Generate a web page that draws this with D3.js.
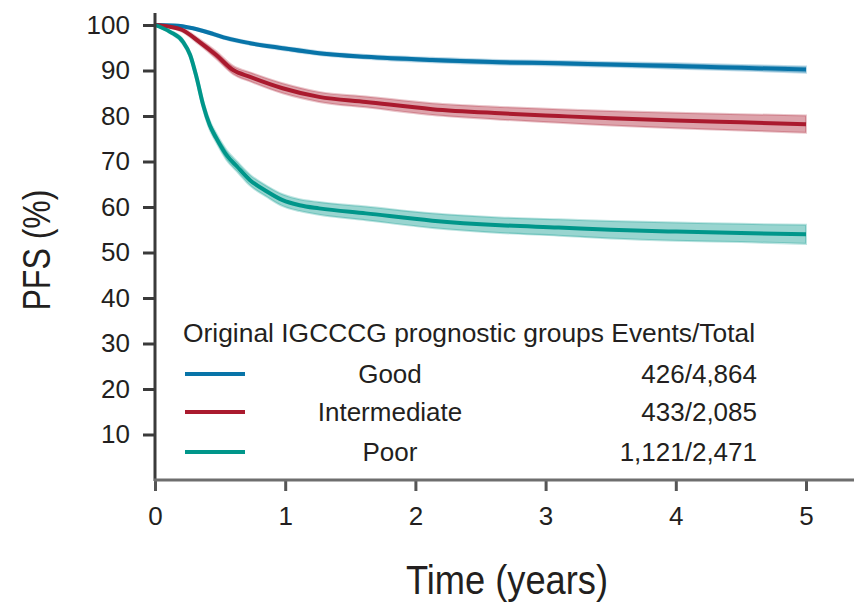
<!DOCTYPE html>
<html>
<head>
<meta charset="utf-8">
<script src="https://cdn.jsdelivr.net/npm/d3@7"></script>
<style>
  html, body { margin: 0; padding: 0; background: #fff; }
  svg { display: block; }
  text { font-family: "Liberation Sans", Arial, sans-serif; fill: #231f20; }
</style>
</head>
<body>
<svg id="chart" width="854" height="602"></svg>
<script>
// Progression-free survival by original IGCCCG prognostic group
const groups = ["Good", "Intermediate", "Poor"];
const eventsTotal = ["426/4,864", "433/2,085", "1,121/2,471"];
const colors = ["#0874a8", "#aa1a2e", "#00968a"];

const goodTime = [0, 0.15, 0.29, 0.45, 0.55, 0.73, 0.98, 1.26, 1.62, 2.13, 2.65, 3.1, 3.5, 4.0, 4.5, 5.0];
const goodPFS  = [100, 99.9, 99.3, 98.0, 97.1, 96.0, 94.9, 93.8, 93.0, 92.3, 91.8, 91.6, 91.3, 91.0, 90.6, 90.2];
const goodCI   = [0, 0.1, 0.2, 0.3, 0.3, 0.3, 0.4, 0.4, 0.4, 0.5, 0.5, 0.5, 0.5, 0.6, 0.6, 0.7];

const intTime = [0, 0.1, 0.21, 0.34, 0.47, 0.6, 0.73, 0.98, 1.26, 1.62, 2.13, 2.65, 3.1, 3.5, 4.0, 4.5, 5.0];
const intPFS  = [100, 99.7, 98.9, 96.3, 93.4, 90.1, 88.6, 86.1, 84.2, 83.1, 81.5, 80.6, 80.0, 79.5, 79.0, 78.6, 78.2];
const intCI   = [0, 0.2, 0.4, 0.6, 0.8, 0.9, 1.0, 1.1, 1.1, 1.2, 1.3, 1.4, 1.5, 1.6, 1.7, 1.8, 1.9];

const poorTime = [0, 0.115, 0.215, 0.27, 0.32, 0.37, 0.42, 0.47, 0.55, 0.63, 0.73, 0.86, 0.98, 1.11, 1.26, 1.62, 2.13, 2.65, 3.1, 3.5, 4.0, 4.5, 5.0];
const poorPFS  = [100, 98.5, 96.3, 93.4, 88.4, 82.4, 78, 75.2, 71.4, 68.9, 65.9, 63.4, 61.5, 60.4, 59.7, 58.6, 57.0, 56.0, 55.5, 55.0, 54.6, 54.3, 54.0];
const poorCI   = [0, 0.3, 0.5, 0.6, 0.8, 0.9, 1.0, 1.0, 1.1, 1.1, 1.2, 1.2, 1.3, 1.3, 1.4, 1.5, 1.6, 1.7, 1.8, 1.9, 2.0, 2.0, 2.1];

const xTicks = [0, 1, 2, 3, 4, 5];
const yTicks = [10, 20, 30, 40, 50, 60, 70, 80, 90, 100];

const series = [
  { time: goodTime, pfs: goodPFS, ci: goodCI },
  { time: intTime,  pfs: intPFS,  ci: intCI },
  { time: poorTime, pfs: poorPFS, ci: poorCI }
].map((s, i) => ({
  color: colors[i],
  points: s.time.map((t, j) => ({ t, v: s.pfs[j], lo: s.pfs[j] - s.ci[j], hi: Math.min(100, s.pfs[j] + s.ci[j]) }))
}));

const svg = d3.select("#chart");
const x = d3.scaleLinear().domain([0, 5]).range([155, 806]);
const y = d3.scaleLinear().domain([0, 100]).range([480, 25]);

// Confidence bands
const band = d3.area()
  .x(d => x(d.t)).y0(d => y(d.lo)).y1(d => y(d.hi))
  .curve(d3.curveMonotoneX);
const line = d3.line()
  .x(d => x(d.t)).y(d => y(d.v))
  .curve(d3.curveMonotoneX);

svg.append("g").selectAll("path").data(series).join("path")
  .attr("d", d => band(d.points))
  .attr("fill", d => d.color)
  .attr("fill-opacity", 0.4)
  .attr("stroke", d => d.color)
  .attr("stroke-opacity", 0.25)
  .attr("stroke-width", 2);

svg.append("g").selectAll("path").data(series).join("path")
  .attr("d", d => line(d.points))
  .attr("fill", "none")
  .attr("stroke", d => d.color)
  .attr("stroke-width", 4);

// Y axis
const yAxis = svg.append("g")
  .attr("transform", "translate(155,0)")
  .call(d3.axisLeft(y).tickValues(yTicks).tickSize(12).tickPadding(13).tickSizeOuter(0));
yAxis.select(".domain").remove();
yAxis.append("line")
  .attr("x1", 0).attr("x2", 0).attr("y1", 13).attr("y2", 481)
  .attr("stroke", "#3a3a3a").attr("stroke-width", 3);
yAxis.selectAll(".tick line").attr("stroke", "#3a3a3a").attr("stroke-width", 3);
yAxis.selectAll(".tick text")
  .attr("font-size", 26).attr("font-family", "Liberation Sans, Arial, sans-serif")
  .attr("fill", "#231f20");

// X axis
const xAxis = svg.append("g")
  .attr("transform", "translate(0,480)")
  .call(d3.axisBottom(x).tickValues(xTicks).tickFormat(d3.format("d")).tickSize(11).tickPadding(16).tickSizeOuter(0));
xAxis.select(".domain").remove();
xAxis.append("line")
  .attr("x1", 154).attr("x2", 854).attr("y1", 0).attr("y2", 0)
  .attr("stroke", "#6e6e6e").attr("stroke-width", 3);
xAxis.selectAll(".tick line").attr("stroke", "#555").attr("stroke-width", 3);
xAxis.selectAll(".tick text")
  .attr("font-size", 26).attr("font-family", "Liberation Sans, Arial, sans-serif")
  .attr("fill", "#231f20");

// Axis titles (condensed lettering)
svg.append("text")
  .attr("x", 507).attr("y", 594)
  .attr("text-anchor", "middle")
  .attr("font-size", 40)
  .attr("textLength", 202)
  .attr("lengthAdjust", "spacingAndGlyphs")
  .text("Time (years)");

svg.append("text")
  .attr("transform", "translate(50,250) rotate(-90)")
  .attr("text-anchor", "middle")
  .attr("font-size", 39)
  .attr("textLength", 121)
  .attr("lengthAdjust", "spacingAndGlyphs")
  .text("PFS (%)");

// Legend
const legend = svg.append("g");
legend.append("text")
  .attr("x", 183).attr("y", 342)
  .attr("font-size", 26.4)
  .text("Original IGCCCG prognostic groups Events/Total");

const rowY = [374, 412, 452];
const rows = legend.selectAll("g.row").data(groups).join("g").attr("class", "row");
rows.append("line")
  .attr("x1", 185).attr("x2", 245)
  .attr("y1", (d, i) => rowY[i]).attr("y2", (d, i) => rowY[i])
  .attr("stroke", (d, i) => colors[i]).attr("stroke-width", 4);
rows.append("text")
  .attr("x", 390).attr("y", (d, i) => rowY[i] + 9)
  .attr("text-anchor", "middle")
  .attr("font-size", 26)
  .text(d => d);
rows.append("text")
  .attr("x", 757).attr("y", (d, i) => rowY[i] + 9)
  .attr("text-anchor", "end")
  .attr("font-size", 26)
  .text((d, i) => eventsTotal[i]);
</script>
</body>
</html>
